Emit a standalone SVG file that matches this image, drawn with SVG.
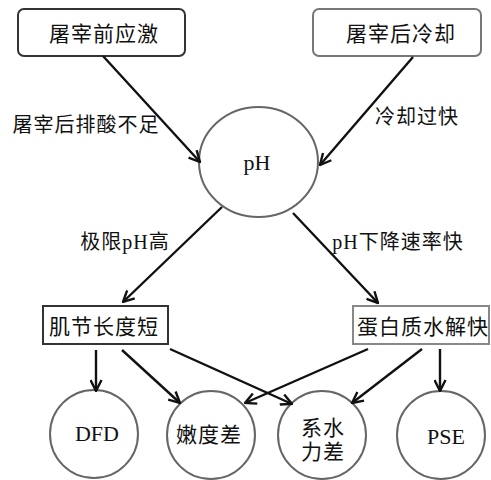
<svg xmlns="http://www.w3.org/2000/svg" width="491" height="480" viewBox="0 0 491 480">
<defs>
<marker id="arr" viewBox="0 0 13 13" refX="12" refY="6.5" markerWidth="13" markerHeight="13" markerUnits="userSpaceOnUse" orient="auto">
<path d="M1,1 L12,6.5 L1,12" fill="none" stroke="#111" stroke-width="2.4" stroke-linejoin="miter"/>
</marker>
<style>
text{font-family:"Liberation Serif","Noto Sans CJK SC",serif;font-size:21px;fill:#111;text-anchor:middle;letter-spacing:1px}
.lbl{font-size:20px}
.lat{font-size:22px;letter-spacing:0}
.box{fill:#fff;stroke-width:2}
.circ{fill:#fff;stroke:#666;stroke-width:2}
.edge{stroke:#111;stroke-width:2.4;fill:none;marker-end:url(#arr)}
</style>
</defs>
<rect width="491" height="480" fill="#fff"/>
<g id="n1"><rect class="box" x="18" y="9" width="167" height="47" rx="6" stroke="#333"/><text x="104" y="41">屠宰前应激</text></g>
<g id="n2"><rect class="box" x="313" y="9" width="168" height="47" rx="6" stroke="#777"/><text x="401" y="41">屠宰后冷却</text></g>
<g id="n3"><ellipse class="circ" cx="258.5" cy="162" rx="59.5" ry="55"/><text class="lat" x="257" y="170">pH</text></g>
<g id="n4"><rect class="box" x="43" y="306" width="125" height="38" stroke="#333"/><text x="104" y="334">肌节长度短</text></g>
<g id="n5"><rect class="box" x="353" y="306" width="136" height="38" stroke="#888"/><text x="423" y="334">蛋白质水解快</text></g>
<g id="n6"><circle class="circ" cx="94" cy="434" r="44"/><text class="lat" x="97" y="441">DFD</text></g>
<g id="n7"><circle class="circ" cx="211" cy="435" r="44"/><text x="209" y="442">嫩度差</text></g>
<g id="n8"><circle class="circ" cx="322" cy="435" r="44"/><text x="323" y="435">系水</text><text x="323" y="459">力差</text></g>
<g id="n9"><circle class="circ" cx="441" cy="435" r="44"/><text class="lat" x="446" y="444">PSE</text></g>
<g id="edges">
<line class="edge" x1="103" y1="56" x2="200" y2="162"/>
<line class="edge" x1="413" y1="57" x2="320" y2="165"/>
<line class="edge" x1="222" y1="207" x2="123" y2="302"/>
<line class="edge" x1="293" y1="213" x2="378" y2="303"/>
<line class="edge" x1="96" y1="350" x2="96" y2="391"/>
<line class="edge" x1="122" y1="350" x2="180" y2="403"/>
<line class="edge" x1="170" y1="349" x2="292" y2="404"/>
<line class="edge" x1="368" y1="349" x2="245" y2="403"/>
<line class="edge" x1="422" y1="349" x2="352" y2="403"/>
<line class="edge" x1="440" y1="349" x2="440" y2="391"/>
<text class="lbl" x="86" y="132">屠宰后排酸不足</text>
<text class="lbl" x="417" y="124">冷却过快</text>
<text class="lbl" x="125" y="249">极限pH高</text>
<text class="lbl" x="398" y="249">pH下降速率快</text>
</g>
</svg>
